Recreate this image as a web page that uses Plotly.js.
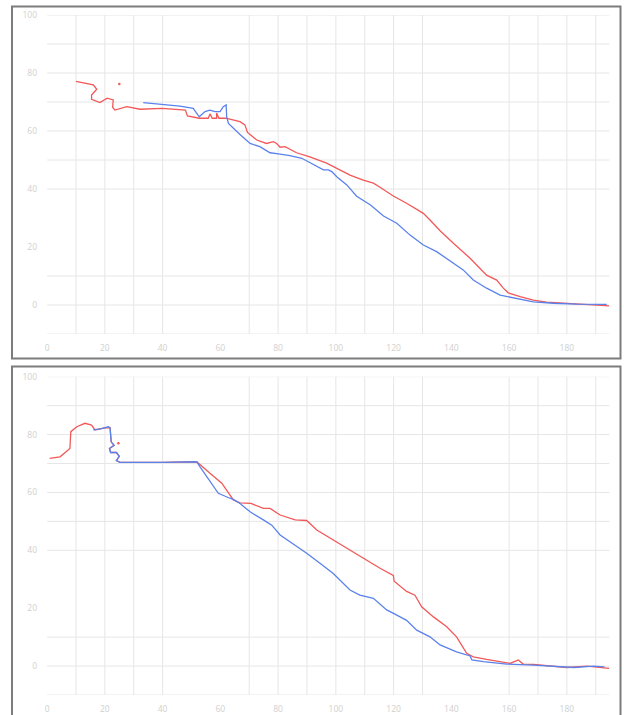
<!DOCTYPE html>
<html>
<head>
<meta charset="utf-8">
<script src="https://cdn.plot.ly/plotly-3.0.1.min.js"></script>
<style>html,body{margin:0;padding:0;background:#fff;}#chart{width:624px;height:715px;}</style>
</head>
<body>
<div id="chart"></div>
<script>
// ---- data: top panel ----
const topRedX = [10, 13.9, 16, 17.2, 15.4, 15.4, 18.3, 20.8, 22.9, 22.7, 23.5, 27.6, 32.2, 39.9, 44.9, 47.9, 48.6, 52.7, 55.8, 56.4, 57.2, 58.7, 58.7, 59.5, 61.9, 66.8, 68.5, 69.4, 72.6, 76, 78.3, 79.5, 80.7, 82.4, 86.4, 91, 96.8, 101.4, 104.9, 109.5, 113, 115.3, 119.9, 124.5, 130.3, 132.6, 136.1, 140.7, 146.5, 152.2, 155.7, 158, 159.7, 163.8, 168.4, 173, 180, 186.9, 194.7];
const topRedY = [77.1, 76.4, 75.9, 74.4, 72.4, 70.9, 69.8, 71.3, 70.7, 68.2, 67.2, 68.4, 67.5, 67.8, 67.5, 67.2, 65.2, 64.4, 64.4, 65.9, 64.4, 64.4, 66.2, 64.4, 64.4, 63.2, 62.1, 59.5, 56.9, 55.7, 56.3, 55.7, 54.4, 54.6, 52.5, 51.1, 48.9, 46.6, 44.8, 43.1, 42.0, 40.6, 37.6, 35.1, 31.6, 29.3, 25.6, 21.3, 16.1, 10.3, 8.6, 5.8, 4.2, 2.9, 1.7, 1.0, 0.6, 0.2, -0.3];
const topBlueX = [33.3, 39.9, 46, 50.6, 52.7, 54.7, 56.4, 58.1, 59.9, 61, 62, 62.2, 62.8, 66.8, 70.3, 73.7, 76, 77.2, 80.1, 84.1, 88.2, 93.4, 95.7, 97.4, 98.6, 100.3, 103.8, 107.2, 112, 116.5, 121.1, 125.7, 130.3, 134.9, 138.4, 144.1, 147.6, 152.2, 156.9, 162.6, 168.4, 175.3, 183.4, 193.8];
const topBlueY = [69.8, 69.3, 68.6, 67.8, 64.9, 66.7, 67.2, 66.7, 66.7, 68.4, 69.0, 64.9, 62.6, 58.8, 55.7, 54.6, 53.4, 52.5, 52.1, 51.5, 50.6, 47.7, 46.6, 46.6, 46.0, 44.2, 41.4, 37.5, 34.5, 30.7, 28.2, 24.1, 20.7, 18.4, 16.1, 12.1, 8.6, 5.8, 3.4, 2.3, 1.1, 0.6, 0.3, 0.2];
const topDotX = [25];
const topDotY = [76.2];

// ---- data: bottom panel ----
const botRedX = [0.9, 4.5, 7.9, 8.2, 10.3, 13.1, 15.4, 16.6, 19.5, 21.8, 22.2, 23.2, 21.6, 22.0, 24.0, 25.0, 24.0, 25.2, 40, 51.8, 56.4, 60.5, 64.5, 66.8, 70.6, 74.9, 77.2, 80.7, 85.9, 89.9, 93.4, 100.3, 104.9, 109.5, 115.3, 119.9, 120.2, 124.5, 127.4, 129.7, 133.8, 138.4, 141.8, 145.3, 147.6, 152.2, 160.3, 163.2, 164.9, 168.4, 180, 186.9, 194.7];
const botRedY = [71.8, 72.3, 75.2, 81.0, 82.7, 83.9, 83.3, 81.6, 82.2, 82.4, 77.5, 76.3, 75.2, 73.8, 73.8, 72.5, 71.0, 70.4, 70.4, 70.6, 66.6, 63.2, 57.4, 56.4, 56.2, 54.5, 54.5, 52.2, 50.5, 50.3, 47.0, 42.8, 40.3, 37.2, 33.8, 31.3, 29.3, 25.8, 24.5, 20.5, 17.0, 13.6, 10.1, 4.4, 3.2, 2.3, 0.9, 2.1, 0.7, 0.6, -0.5, 0, -0.8];
const botBlueX = [16, 18.5, 21.2, 21.8, 22.2, 23.2, 21.6, 22.0, 24.0, 25.0, 24.0, 25.2, 40, 51.8, 52.9, 55.8, 59.3, 63.3, 64.5, 66.8, 70.3, 74.9, 77.8, 80.7, 89.9, 94.5, 99.1, 104.9, 108.3, 113, 117.6, 121.1, 124.5, 128, 132.6, 136.1, 141.8, 146.5, 147.1, 151.1, 159.2, 168.4, 182.4, 189.3, 193];
const botBlueY = [81.6, 82.0, 82.7, 82.4, 77.5, 76.3, 75.2, 73.8, 73.8, 72.5, 71.0, 70.4, 70.4, 70.6, 68.9, 64.9, 59.7, 58.0, 57.6, 56.2, 53.3, 50.5, 48.7, 45.3, 39.0, 35.5, 32.0, 26.3, 24.5, 23.4, 19.4, 17.6, 15.8, 12.4, 10.1, 7.3, 4.9, 3.5, 2.1, 1.5, 0.7, 0.3, -0.5, 0, -0.3];
const botDotX = [24.7];
const botDotY = [77.0];

// ---- ticks ----
const xTickVals = [0, 20, 40, 60, 80, 100, 120, 140, 160, 180];
const xTickText = ['0', '20', '40', '60', '80', '100', '120', '140', '160', '180'];
const yTickVals = [0, 20, 40, 60, 80, 100];
const yTickText = ['0', '20', '40', '60', '80', '100'];
const xGrid = [10, 20, 30, 40, 70, 80, 90, 100, 110, 120, 130, 160, 170, 180, 190];
const yGrid = [100, 90, 80, 70, 60, 50, 40, 10, 0, -10];

const RED = '#f25858';
const BLUE = '#5a82ec';
const W = 624, H = 715;
const px = v => v / W;
const py = v => 1 - v / H;

function line(x, y, color, xa, ya) {
  return {x: x, y: y, type: 'scatter', mode: 'lines', xaxis: xa, yaxis: ya,
          line: {color: color, width: 1.3}, hoverinfo: 'skip', showlegend: false};
}
function dots(x, y, color, xa, ya) {
  return {x: x, y: y, type: 'scatter', mode: 'markers', xaxis: xa, yaxis: ya,
          marker: {color: color, size: 2.5}, hoverinfo: 'skip', showlegend: false};
}

const data = [
  line(topRedX, topRedY, RED, 'x', 'y'),
  line(topBlueX, topBlueY, BLUE, 'x', 'y'),
  dots(topDotX, topDotY, RED, 'x', 'y'),
  line(botRedX, botRedY, RED, 'x2', 'y2'),
  line(botBlueX, botBlueY, BLUE, 'x2', 'y2'),
  dots(botDotX, botDotY, RED, 'x2', 'y2')
];

const tickFont = {family: 'Open Sans, sans-serif', size: 8.5, color: '#cfcfcf'};
function xAxis(anchor) {
  return {domain: [px(47.1), px(609.3)], range: [0, 194.7], anchor: anchor,
          showgrid: false, zeroline: false, showline: false, ticks: '',
          tickmode: 'array', tickvals: xTickVals, ticktext: xTickText,
          tickfont: tickFont, ticklabelstandoff: 7, fixedrange: true};
}
function yAxis(anchor, top, bottom) {
  return {domain: [py(bottom), py(top)], range: [-10, 100], anchor: anchor,
          showgrid: false, zeroline: false, showline: false, ticks: '',
          tickmode: 'array', tickvals: yTickVals, ticktext: yTickText,
          tickfont: tickFont, ticklabelstandoff: 9, fixedrange: true};
}

const shapes = [];
const gridStyle = {color: '#e6e6e6', width: 1};
[['x', 'y'], ['x2', 'y2']].forEach(([xa, ya]) => {
  xGrid.forEach(v => shapes.push({type: 'line', layer: 'below', xref: xa, yref: ya + ' domain',
    x0: v, x1: v, y0: 0, y1: 1, line: gridStyle}));
  yGrid.forEach(v => shapes.push({type: 'line', layer: 'below', xref: xa + ' domain', yref: ya,
    x0: 0, x1: 1, y0: v, y1: v, line: gridStyle}));
});
// panel frames
shapes.push({type: 'rect', xref: 'paper', yref: 'paper', layer: 'above',
  x0: px(12), x1: px(620.5), y0: py(358.5), y1: py(6.5), line: {color: '#7c7c7c', width: 2}});
shapes.push({type: 'rect', xref: 'paper', yref: 'paper', layer: 'above',
  x0: px(12), x1: px(620.5), y0: py(740), y1: py(366.5), line: {color: '#7c7c7c', width: 2}});

const layout = {
  width: W, height: H,
  margin: {l: 0, r: 0, t: 0, b: 0},
  paper_bgcolor: '#ffffff', plot_bgcolor: '#ffffff',
  showlegend: false,
  xaxis: xAxis('y'),
  yaxis: yAxis('x', 15, 334),
  xaxis2: xAxis('y2'),
  yaxis2: yAxis('x2', 376.7, 695),
  shapes: shapes
};

Plotly.newPlot('chart', data, layout, {displayModeBar: false, staticPlot: true});
</script>
</body>
</html>
